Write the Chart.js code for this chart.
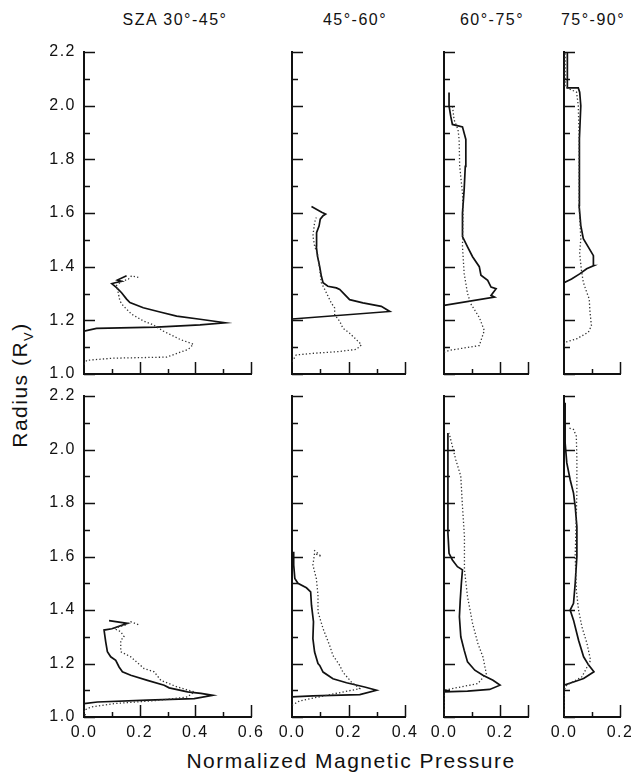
<!DOCTYPE html>
<html>
<head>
<meta charset="utf-8">
<script src="https://cdn.jsdelivr.net/npm/chart.js@4.4.0/dist/chart.umd.min.js"></script>
<style>
  html, body { margin: 0; padding: 0; background: #fff; overflow: hidden; }
  #wrap { position: relative; width: 631px; height: 780px; overflow: hidden;
          font-family: "Liberation Sans", Arial, sans-serif; color: #111; }
  #wrap canvas { position: absolute; }
  .title { position: absolute; top: 11px; font-size: 16px; letter-spacing: 1.5px;
           transform: translateX(-50%); white-space: nowrap; }
  #ylab { position: absolute; left: 22px; top: 385px; font-size: 21px; letter-spacing: 1.5px;
          transform: translate(-50%, -50%) rotate(-90deg); white-space: nowrap; }
  #ylab sub { font-size: 13px; }
  #xlab { position: absolute; left: 351px; top: 749px; font-size: 21px; letter-spacing: 1.5px;
          transform: translateX(-50%); white-space: nowrap; }
</style>
</head>
<body>
<div id="wrap">
  <div id="ylab">Radius (R<sub>V</sub>)</div>
  <div id="xlab">Normalized Magnetic Pressure</div>
</div>
<script>
// ---- values: [pressure, radius] ----
const columnTitles = ["SZA 30°-45°", "45°-60°", "60°-75°", "75°-90°"];
const pressureMax = [0.6, 0.4, 0.3, 0.2];
const pressureTicks = [[0, 0.2, 0.4, 0.6], [0, 0.2, 0.4], [0, 0.2], [0, 0.2]];
const radiusTicks = [1.0, 1.2, 1.4, 1.6, 1.8, 2.0, 2.2];

// top row
const top30Solid = [[0.0,1.16],[0.045,1.17],[0.26,1.175],[0.417,1.183],[0.507,1.191],[0.417,1.204],[0.333,1.216],[0.273,1.231],[0.213,1.247],[0.165,1.266],[0.153,1.279],[0.135,1.303],[0.117,1.322],[0.10,1.337],[0.112,1.34],[0.135,1.345],[0.12,1.35],[0.153,1.366]];
const top30Dotted = [[0.0,1.036],[0.01,1.051],[0.105,1.059],[0.297,1.063],[0.375,1.092],[0.393,1.111],[0.345,1.129],[0.285,1.16],[0.249,1.183],[0.213,1.198],[0.171,1.223],[0.141,1.254],[0.129,1.272],[0.123,1.303],[0.117,1.33],[0.135,1.345],[0.159,1.353],[0.171,1.366],[0.195,1.36]];
const top45Solid = [[0.0,1.205],[0.346,1.233],[0.316,1.252],[0.251,1.265],[0.204,1.277],[0.169,1.315],[0.157,1.321],[0.127,1.327],[0.11,1.34],[0.104,1.364],[0.098,1.40],[0.09,1.44],[0.086,1.477],[0.088,1.502],[0.086,1.527],[0.096,1.552],[0.10,1.577],[0.11,1.59],[0.119,1.596],[0.105,1.603],[0.069,1.624]];
const top45Dotted = [[0.0,1.046],[0.015,1.071],[0.074,1.077],[0.169,1.084],[0.228,1.092],[0.246,1.109],[0.222,1.134],[0.204,1.152],[0.18,1.171],[0.169,1.196],[0.151,1.221],[0.151,1.246],[0.139,1.265],[0.116,1.315],[0.104,1.34],[0.098,1.39],[0.092,1.44],[0.08,1.477],[0.074,1.515],[0.08,1.565],[0.086,1.583]];
const top60Solid = [[0.0,1.256],[0.18,1.287],[0.168,1.293],[0.186,1.318],[0.168,1.324],[0.156,1.349],[0.132,1.368],[0.126,1.40],[0.102,1.437],[0.084,1.474],[0.066,1.512],[0.066,1.60],[0.072,1.687],[0.076,1.774],[0.078,1.874],[0.066,1.921],[0.03,1.93],[0.024,1.961],[0.018,1.999],[0.018,2.049]];
const top60Dotted = [[0.0,1.081],[0.018,1.088],[0.126,1.106],[0.144,1.162],[0.126,1.211],[0.096,1.261],[0.084,1.30],[0.072,1.375],[0.066,1.474],[0.068,1.60],[0.066,1.674],[0.056,1.774],[0.054,1.874],[0.05,1.911],[0.036,1.948],[0.03,2.0]];
const top75Solid = [[0.0,1.34],[0.027,1.354],[0.056,1.373],[0.081,1.392],[0.107,1.404],[0.105,1.441],[0.087,1.473],[0.069,1.504],[0.06,1.553],[0.054,1.628],[0.054,1.752],[0.056,1.877],[0.06,2.0],[0.056,2.05],[0.051,2.066],[0.012,2.066],[0.012,2.2]];
const top75Dotted = [[0.0,1.10],[0.0,1.118],[0.01,1.12],[0.045,1.131],[0.087,1.156],[0.098,1.18],[0.093,1.23],[0.09,1.28],[0.081,1.305],[0.069,1.342],[0.063,1.38],[0.056,1.45],[0.06,1.504],[0.054,1.628],[0.054,1.877],[0.051,2.0],[0.045,2.05],[0.004,2.07],[0.004,2.2]];

// bottom row
const bot30Solid = [[0.0,1.05],[0.048,1.056],[0.228,1.063],[0.396,1.069],[0.462,1.081],[0.42,1.088],[0.372,1.094],[0.306,1.109],[0.288,1.119],[0.228,1.137],[0.168,1.156],[0.138,1.169],[0.126,1.187],[0.114,1.212],[0.096,1.225],[0.084,1.244],[0.078,1.281],[0.072,1.325],[0.10,1.33],[0.156,1.35],[0.09,1.36]];
const bot30Dotted = [[0.005,1.006],[0.0,1.025],[0.024,1.037],[0.108,1.05],[0.264,1.062],[0.372,1.075],[0.396,1.094],[0.336,1.112],[0.276,1.137],[0.252,1.169],[0.216,1.181],[0.168,1.225],[0.132,1.244],[0.132,1.287],[0.144,1.30],[0.132,1.319],[0.108,1.331],[0.15,1.344],[0.168,1.356],[0.198,1.344]];
const bot45Solid = [[0.0,1.075],[0.074,1.079],[0.24,1.084],[0.299,1.10],[0.257,1.112],[0.193,1.128],[0.145,1.143],[0.11,1.168],[0.098,1.193],[0.092,1.20],[0.08,1.243],[0.074,1.293],[0.076,1.356],[0.069,1.418],[0.066,1.468],[0.051,1.483],[0.021,1.50],[0.01,1.518],[0.006,1.568],[0.006,1.618]];
const bot45Dotted = [[0.0,1.044],[0.027,1.06],[0.122,1.081],[0.24,1.106],[0.21,1.131],[0.18,1.168],[0.169,1.193],[0.145,1.23],[0.133,1.268],[0.11,1.33],[0.092,1.393],[0.092,1.456],[0.086,1.518],[0.074,1.568],[0.08,1.612],[0.104,1.6],[0.077,1.625]];
const bot60Solid = [[0.0,1.094],[0.084,1.097],[0.163,1.103],[0.2,1.119],[0.175,1.137],[0.139,1.156],[0.11,1.175],[0.084,1.206],[0.072,1.25],[0.06,1.30],[0.055,1.375],[0.058,1.437],[0.062,1.50],[0.066,1.55],[0.048,1.562],[0.03,1.587],[0.018,1.612],[0.014,1.687],[0.014,1.875],[0.014,2.062]];
const bot60Dotted = [[0.0,1.0],[0.0,1.1],[0.121,1.125],[0.151,1.162],[0.139,1.225],[0.121,1.275],[0.102,1.35],[0.084,1.45],[0.073,1.55],[0.073,1.675],[0.066,1.787],[0.06,1.9],[0.042,1.962],[0.03,2.012],[0.018,2.062]];
const bot75Solid = [[0.0,1.119],[0.034,1.131],[0.07,1.144],[0.107,1.169],[0.088,1.194],[0.07,1.225],[0.052,1.287],[0.034,1.362],[0.022,1.40],[0.034,1.425],[0.04,1.50],[0.046,1.60],[0.046,1.712],[0.04,1.787],[0.034,1.837],[0.022,1.887],[0.01,1.95],[0.004,2.025],[0.004,2.175]];
const bot75Dotted = [[0.0,1.0],[0.0,1.1],[0.01,1.119],[0.064,1.15],[0.095,1.212],[0.082,1.275],[0.064,1.337],[0.052,1.40],[0.044,1.475],[0.04,1.6],[0.044,1.75],[0.046,1.85],[0.046,1.962],[0.044,2.05],[0.034,2.075],[0.016,2.081]];

const rows = [
  [[top30Solid, top30Dotted], [top45Solid, top45Dotted], [top60Solid, top60Dotted], [top75Solid, top75Dotted]],
  [[bot30Solid, bot30Dotted], [bot45Solid, bot45Dotted], [bot60Solid, bot60Dotted], [bot75Solid, bot75Dotted]],
];

// ---- layout (pixels of each plot box) ----
const colLeft = [84, 292, 444, 564];
const colRight = [251, 405, 528, 620];
const rowTop = [52, 396];
const rowBottom = [374, 717];
const PAD_L = 50, PAD_T = 12, PAD_R = 14, PAD_B = 30;
const FONT = '"Liberation Sans", Arial, sans-serif';
const INK = '#111';

// the scanned figure has wide letter spacing in its numbers
const spacedText = {
  id: 'spacedText',
  beforeDraw(chart) { chart.ctx.letterSpacing = '1.5px'; }
};

// tick marks drawn inward, long every 0.2, short every 0.1
const inwardTicks = {
  id: 'inwardTicks',
  afterDraw(chart) {
    const { ctx, chartArea: a, scales: { x, y } } = chart;
    ctx.save();
    ctx.strokeStyle = INK;
    ctx.lineWidth = 1.5;
    ctx.beginPath();
    for (let i = 0; i <= 12; i++) {
      const py = Math.round(y.getPixelForValue(1 + i / 10)) + 0.5;
      const len = i % 2 === 0 ? 11 : 6;
      ctx.moveTo(a.left, py);
      ctx.lineTo(a.left + len, py);
    }
    const n = Math.round(x.max * 10);
    for (let i = 1; i <= n; i++) {
      const px = Math.round(x.getPixelForValue(i / 10)) + 0.5;
      const len = (i % 2 === 0 || i === n) ? 12 : 5;
      ctx.moveTo(px, a.bottom);
      ctx.lineTo(px, a.bottom - len);
    }
    ctx.stroke();
    ctx.restore();
  }
};

const wrap = document.getElementById('wrap');

columnTitles.forEach((t, c) => {
  const d = document.createElement('div');
  d.className = 'title';
  d.textContent = t;
  d.style.left = [175, 355, 492, 593][c] + 'px';
  wrap.appendChild(d);
});

rows.forEach((row, r) => {
  row.forEach(([solid, dotted], c) => {
    const canvas = document.createElement('canvas');
    const w = colRight[c] - colLeft[c] + PAD_L + PAD_R;
    const h = rowBottom[r] - rowTop[r] + PAD_T + PAD_B;
    canvas.width = w;
    canvas.height = h;
    canvas.style.left = (colLeft[c] - PAD_L) + 'px';
    canvas.style.top = (rowTop[r] - PAD_T) + 'px';
    canvas.style.width = w + 'px';
    canvas.style.height = h + 'px';
    wrap.appendChild(canvas);

    new Chart(canvas.getContext('2d'), {
      type: 'scatter',
      data: {
        datasets: [
          {
            data: dotted.map(([p, rad]) => ({ x: p, y: rad })),
            showLine: true,
            borderColor: '#333',
            borderWidth: 1.3,
            borderDash: [1.3, 2.2],
            pointRadius: 0,
            tension: 0,
          },
          {
            data: solid.map(([p, rad]) => ({ x: p, y: rad })),
            showLine: true,
            borderColor: INK,
            borderWidth: 1.7,
            pointRadius: 0,
            tension: 0,
          },
        ],
      },
      options: {
        responsive: false,
        animation: false,
        devicePixelRatio: 1,
        layout: { padding: { left: 0, top: PAD_T, right: PAD_R, bottom: 0 } },
        plugins: { legend: { display: false }, tooltip: { enabled: false } },
        scales: {
          x: {
            type: 'linear',
            min: 0,
            max: pressureMax[c],
            afterBuildTicks: (s) => { s.ticks = pressureTicks[c].map((v) => ({ value: v })); },
            afterFit: (s) => { s.height = PAD_B; },
            grid: { display: false },
            border: { display: true, color: INK, width: 2 },
            ticks: {
              display: r === 1,
              autoSkip: false,
              maxRotation: 0,
              padding: -2,
              color: INK,
              font: { family: FONT, size: 16 },
              callback: (v) => Number(v).toFixed(1),
            },
          },
          y: {
            type: 'linear',
            min: 1.0,
            max: 2.2,
            afterBuildTicks: (s) => { s.ticks = radiusTicks.map((v) => ({ value: v })); },
            afterFit: (s) => { s.width = PAD_L; },
            grid: { display: false },
            border: { display: true, color: INK, width: 2 },
            ticks: {
              display: c === 0,
              padding: 0,
              color: INK,
              font: { family: FONT, size: 16 },
              callback: (v) => Number(v).toFixed(1),
            },
          },
        },
      },
      plugins: [spacedText, inwardTicks],
    });
  });
});
</script>
</body>
</html>
